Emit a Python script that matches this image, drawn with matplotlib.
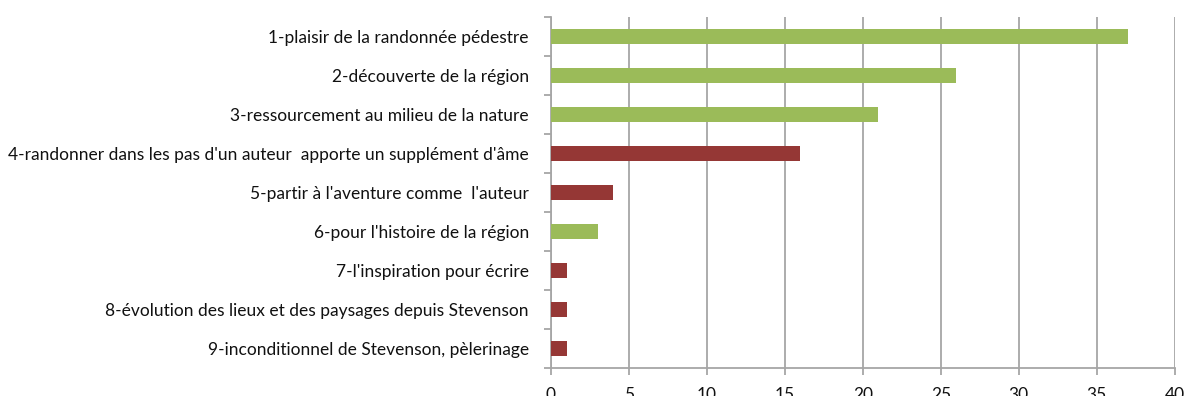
import numpy as np
import matplotlib.pyplot as plt

# Motivations (top to bottom) and number of answers
categories = [
    "1-plaisir de la randonnée pédestre",
    "2-découverte de la région",
    "3-ressourcement au milieu de la nature",
    "4-randonner dans les pas d'un auteur  apporte un supplément d'âme",
    "5-partir à l'aventure comme  l'auteur",
    "6-pour l'histoire de la région",
    "7-l'inspiration pour écrire",
    "8-évolution des lieux et des paysages depuis Stevenson",
    "9-inconditionnel de Stevenson, pèlerinage",
]
values = [37, 26, 21, 16, 4, 3, 1, 1, 1]
groups = ["nature", "nature", "nature", "auteur", "auteur", "nature",
          "auteur", "auteur", "auteur"]
x_ticks = [0, 5, 10, 15, 20, 25, 30, 35, 40]

palette = {"nature": "#9BBB59", "auteur": "#953735"}
grid_color = "#A6A6A6"

plt.rcParams["font.family"] = ["Lato", "DejaVu Sans"]

fig = plt.figure(figsize=(11.88, 3.96), dpi=100)
ax = fig.add_axes([0.4638, 0.0707, 0.525, 0.886])

y = np.arange(len(categories))
ax.barh(y, values, height=0.4, color=[palette[g] for g in groups], zorder=3)

ax.set_xlim(0, 40)
ax.set_ylim(len(categories) - 0.5, -0.5)
ax.set_xticks(x_ticks)
ax.set_xticklabels([str(t) for t in x_ticks], fontsize=12.5, color="#111111")
ax.xaxis.grid(True, color=grid_color, linewidth=1.3, zorder=0)
ax.tick_params(axis="x", length=5, width=1.3, color=grid_color, pad=9)

# category labels on centres, tick marks on boundaries
ax.set_yticks(np.arange(-0.5, len(categories)), minor=False)
ax.set_yticklabels([])
ax.set_yticks(y, minor=True)
ax.set_yticklabels(categories, minor=True, fontsize=12.5, color="#111111")
ax.tick_params(axis="y", which="major", length=5, width=1.3, color=grid_color)
ax.tick_params(axis="y", which="minor", length=0, pad=16)

for side in ["top", "right"]:
    ax.spines[side].set_visible(False)
for side in ["left", "bottom"]:
    ax.spines[side].set_color(grid_color)
    ax.spines[side].set_linewidth(1.3)

fig.savefig("out.png", dpi=100)
